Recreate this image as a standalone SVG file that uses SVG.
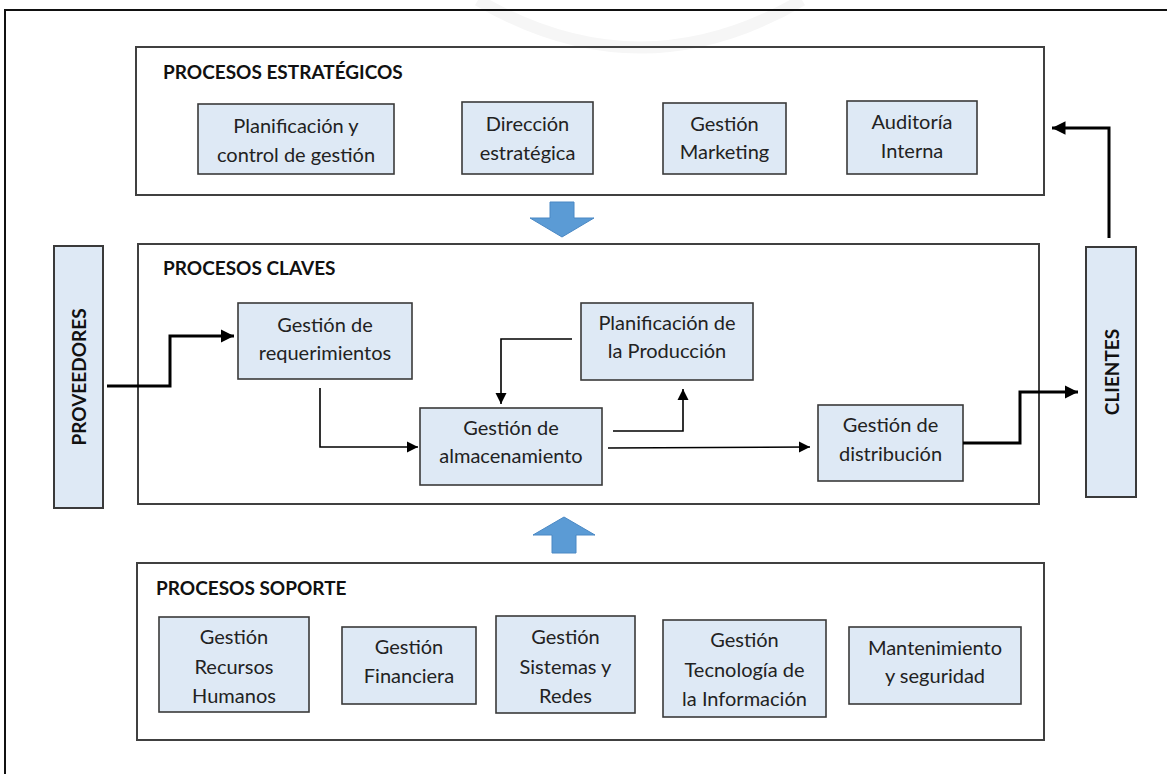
<svg xmlns="http://www.w3.org/2000/svg" width="1167" height="774" viewBox="0 0 1167 774">
  <style>
    .frame { fill: none; stroke: #404040; stroke-width: 2; }
    .box { fill: #dee9f5; stroke: #3a3a3a; stroke-width: 1.6; }
    .side { fill: #dee9f5; stroke: #3a3a3a; stroke-width: 2; }
    .t { font-family: Lato, "Liberation Sans", sans-serif; font-size: 20px; fill: #222222; text-anchor: middle; }
    .h { font-family: Lato, "Liberation Sans", sans-serif; font-size: 19px; font-weight: bold; fill: #111111; }
    .vt { font-family: Lato, "Liberation Sans", sans-serif; font-size: 19px; font-weight: bold; fill: #111111; text-anchor: middle; dominant-baseline: central; }
    .thick { fill: none; stroke: #000000; stroke-width: 3; }
    .thin { fill: none; stroke: #000000; stroke-width: 1.6; }
    .bigarrow { fill: #5b9bd5; stroke: #4a88c4; stroke-width: 1; }
  </style>
  <defs>
    <marker id="ah" viewBox="0 0 10 10" refX="10" refY="5" markerWidth="4.5" markerHeight="4.5" markerUnits="strokeWidth" orient="auto">
      <path d="M0,0 L10,5 L0,10 Z" fill="#000000"/>
    </marker>
    <marker id="ahs" viewBox="0 0 10 10" refX="10" refY="5" markerWidth="7" markerHeight="7" markerUnits="strokeWidth" orient="auto">
      <path d="M0,0 L10,5 L0,10 Z" fill="#000000"/>
    </marker>
  </defs>

  <rect width="1167" height="774" fill="#ffffff"/>

  <!-- faint background seal at the top of the page -->
  <path d="M478,0 Q640,95 802,0" fill="none" stroke="#f6f6f6" stroke-width="12"/>

  <!-- outer page frame (right and bottom edges run off the page) -->
  <path d="M5,774 V10 H1167" fill="none" stroke="#111111" stroke-width="2"/>

  <!-- process group frames -->
  <g id="estrategicos">
    <rect class="frame" x="136" y="47" width="908" height="148"/>
    <text class="h" x="163" y="79">PROCESOS ESTRATÉGICOS</text>
  </g>
  <g id="claves">
    <rect class="frame" x="138" y="244" width="901" height="260"/>
    <text class="h" x="163" y="275">PROCESOS CLAVES</text>
  </g>
  <g id="soporte">
    <rect class="frame" x="137" y="563" width="907" height="177"/>
    <text class="h" x="156" y="595">PROCESOS SOPORTE</text>
  </g>

  <!-- strategic processes -->
  <g id="planificacion-control">
    <rect class="box" x="198" y="104" width="196" height="70"/>
    <text class="t" x="296" y="133">Planificación y</text>
    <text class="t" x="296" y="162">control de gestión</text>
  </g>
  <g id="direccion-estrategica">
    <rect class="box" x="462" y="102" width="131" height="72"/>
    <text class="t" x="527.5" y="131">Dirección</text>
    <text class="t" x="527.5" y="160">estratégica</text>
  </g>
  <g id="gestion-marketing">
    <rect class="box" x="663" y="103" width="123" height="71"/>
    <text class="t" x="724.5" y="131">Gestión</text>
    <text class="t" x="724.5" y="159">Marketing</text>
  </g>
  <g id="auditoria-interna">
    <rect class="box" x="847" y="101" width="130" height="73"/>
    <text class="t" x="912" y="129">Auditoría</text>
    <text class="t" x="912" y="158">Interna</text>
  </g>

  <!-- external parties -->
  <g id="proveedores">
    <rect class="side" x="54" y="246" width="49" height="262"/>
    <text class="vt" transform="translate(78.5,377) rotate(-90)">PROVEEDORES</text>
  </g>
  <g id="clientes">
    <rect class="side" x="1086" y="247" width="50" height="250"/>
    <text class="vt" transform="translate(1111,372) rotate(-90)">CLIENTES</text>
  </g>

  <!-- key processes -->
  <g id="gestion-requerimientos">
    <rect class="box" x="238" y="303" width="174" height="76"/>
    <text class="t" x="325" y="332">Gestión de</text>
    <text class="t" x="325" y="360">requerimientos</text>
  </g>
  <g id="planificacion-produccion">
    <rect class="box" x="581" y="303" width="172" height="77"/>
    <text class="t" x="667" y="330">Planificación de</text>
    <text class="t" x="667" y="358">la Producción</text>
  </g>
  <g id="gestion-almacenamiento">
    <rect class="box" x="420" y="408" width="182" height="77"/>
    <text class="t" x="511" y="435">Gestión de</text>
    <text class="t" x="511" y="463">almacenamiento</text>
  </g>
  <g id="gestion-distribucion">
    <rect class="box" x="818" y="405" width="145" height="76"/>
    <text class="t" x="890.5" y="432">Gestión de</text>
    <text class="t" x="890.5" y="461">distribución</text>
  </g>

  <!-- support processes -->
  <g id="gestion-rrhh">
    <rect class="box" x="159" y="617" width="150" height="95"/>
    <text class="t" x="234" y="644">Gestión</text>
    <text class="t" x="234" y="674">Recursos</text>
    <text class="t" x="234" y="703">Humanos</text>
  </g>
  <g id="gestion-financiera">
    <rect class="box" x="342" y="627" width="134" height="77"/>
    <text class="t" x="409" y="654">Gestión</text>
    <text class="t" x="409" y="683">Financiera</text>
  </g>
  <g id="gestion-sistemas">
    <rect class="box" x="496" y="616" width="139" height="97"/>
    <text class="t" x="565.5" y="644">Gestión</text>
    <text class="t" x="565.5" y="674">Sistemas y</text>
    <text class="t" x="565.5" y="703">Redes</text>
  </g>
  <g id="gestion-tecnologia">
    <rect class="box" x="663" y="620" width="163" height="97"/>
    <text class="t" x="744.5" y="647">Gestión</text>
    <text class="t" x="744.5" y="677">Tecnología de</text>
    <text class="t" x="744.5" y="706">la Información</text>
  </g>
  <g id="mantenimiento">
    <rect class="box" x="849" y="627" width="172" height="77"/>
    <text class="t" x="935" y="655">Mantenimiento</text>
    <text class="t" x="935" y="683">y seguridad</text>
  </g>

  <!-- connectors -->
  <g id="connectors">
    <!-- block arrows between process levels -->
    <path class="bigarrow" d="M550,202 H574 V218 H594 L562,237 L530,218 H550 Z"/>
    <path class="bigarrow" d="M552,553 H576 V535 H595 L564,517 L533,535 H552 Z"/>
    <!-- flow lines -->
    <path class="thick" d="M107,386 H170 V336 H234" marker-end="url(#ah)"/>
    <path class="thin" d="M320,388 V447 H418" marker-end="url(#ahs)"/>
    <path class="thin" d="M572,339 H501 V404" marker-end="url(#ahs)"/>
    <path class="thin" d="M613,431 H683 V389" marker-end="url(#ahs)"/>
    <path class="thin" d="M608,448 L810,447" marker-end="url(#ahs)"/>
    <path class="thick" d="M963,443 H1020 V392 H1078" marker-end="url(#ah)"/>
    <path class="thick" d="M1109,238 V128 H1052" marker-end="url(#ah)"/>
  </g>
</svg>
